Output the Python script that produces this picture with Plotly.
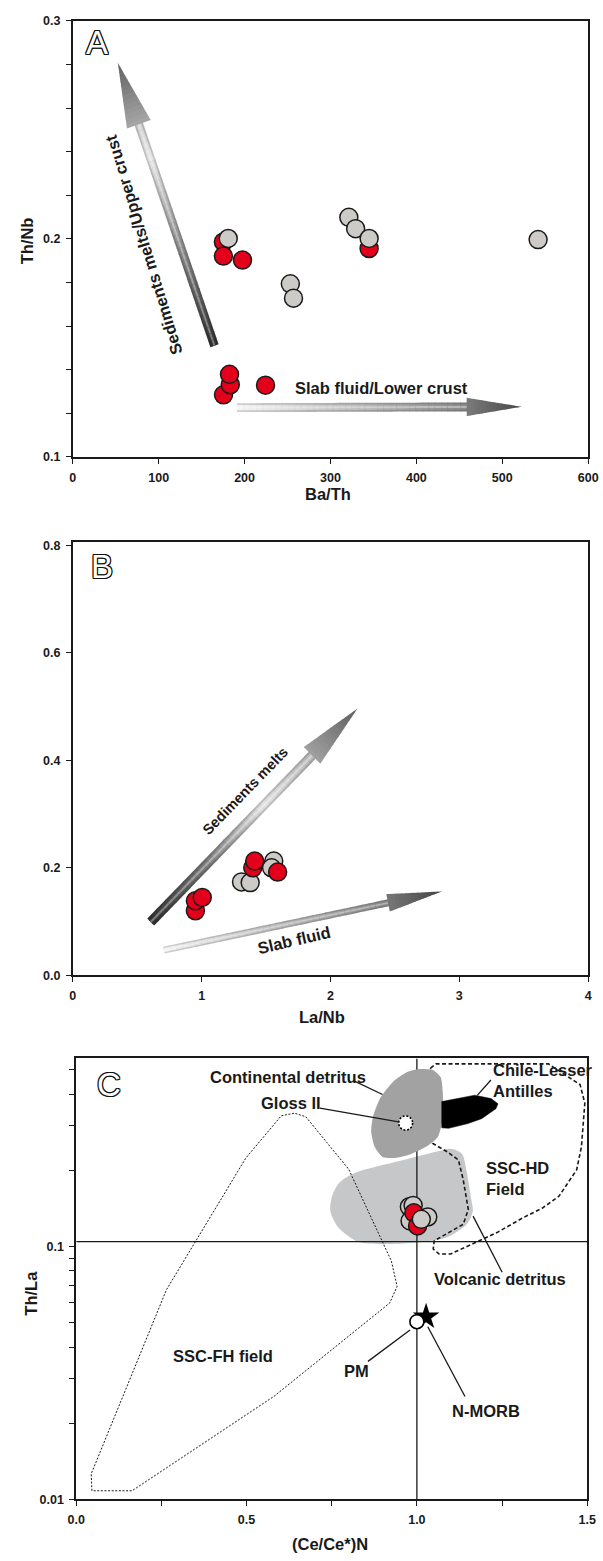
import math
import numpy as np
import plotly.graph_objects as go

W, H = 603, 1561
FONT = "Liberation Sans, Arial, Helvetica, sans-serif"

# ---------------- DATA ----------------
# Panel A: Ba/Th vs Th/Nb
a_red_ba_th = [175.4, 175.4, 197.6, 345.0, 175.5, 183.4, 182.5, 224.4]
a_red_th_nb = [0.1986, 0.1921, 0.1903, 0.1956, 0.1285, 0.1331, 0.1379, 0.1329]
a_gray_ba_th = [181.0, 321.4, 329.3, 345.0, 253.3, 257.0, 541.7]
a_gray_th_nb = [0.2002, 0.2099, 0.2047, 0.2002, 0.1794, 0.1728, 0.1997]

# Panel B: La/Nb vs Th/Nb
b_red_la_nb = [0.952, 0.952, 1.005, 1.397, 1.412, 1.590]
b_red_th_nb = [0.120, 0.1385, 0.1448, 0.200, 0.2124, 0.192]
b_gray_la_nb = [1.310, 1.377, 1.560, 1.543]
b_gray_th_nb = [0.1736, 0.1725, 0.2124, 0.200]

# Panel C: (Ce/Ce*)N vs Th/La
c_gray_back_ce = [0.978, 0.989, 0.980]
c_gray_back_thla = [0.1436, 0.1454, 0.1262]
c_red_ce = [0.991, 1.002]
c_red_thla = [0.1359, 0.1206]
c_gray_front_ce = [1.032, 1.013]
c_gray_front_thla = [0.1308, 0.1281]

# Reference compositions (panel C)
pm_ce, pm_thla = [1.0], [0.0504]
nmorb_ce, nmorb_thla = [1.027], [0.0527]
gloss_ce, gloss_thla = [0.967], [0.308]
ref_line_ce = 1.0
ref_line_thla = 0.1046

# Field outlines (panel C)
fh_ce = [0.046, 0.044, 0.265, 0.498, 0.602, 0.641, 0.674, 0.800, 0.925, 0.942, 0.920, 0.580, 0.164, 0.046]
fh_thla = [0.0108, 0.0126, 0.0675, 0.224, 0.329, 0.337, 0.326, 0.202, 0.0877, 0.0695, 0.0597, 0.0255, 0.0108, 0.0108]

hd_ce = [1.040, 1.056, 1.386, 1.479, 1.493, 1.483, 1.469, 1.417, 1.369, 1.312, 1.235, 1.099, 1.065,
         1.048, 1.051, 1.084, 1.136, 1.151, 1.136, 1.122, 1.089, 1.046, 1.040]
hd_thla = [0.508, 0.528, 0.528, 0.437, 0.369, 0.248, 0.201, 0.158, 0.142, 0.130, 0.1135, 0.0934, 0.0934,
           0.0977, 0.1053, 0.1119, 0.1224, 0.140, 0.1837, 0.220, 0.237, 0.256, 0.508]

volc_ce = [0.751, 0.771, 0.814, 0.942, 1.056, 1.099, 1.132, 1.146, 1.158, 1.164, 1.147, 1.085, 0.990, 0.894, 0.828, 0.771, 0.746]
volc_thla = [0.158, 0.178, 0.1945, 0.2168, 0.2372, 0.2438, 0.2331, 0.198, 0.158, 0.1379, 0.1227, 0.1082, 0.1034, 0.1022, 0.1043, 0.1184, 0.138]

cont_ce = [1.007, 1.047, 1.070, 1.076, 1.075, 1.062, 1.027, 0.979, 0.936, 0.899, 0.876, 0.866, 0.871, 0.894, 0.931, 0.970]
cont_thla = [0.504, 0.4995, 0.467, 0.408, 0.317, 0.272, 0.248, 0.231, 0.224, 0.226, 0.248, 0.284, 0.326, 0.390, 0.450, 0.489]

chile_ce = [1.073, 1.113, 1.170, 1.218, 1.238, 1.232, 1.190, 1.150, 1.093, 1.073]
chile_thla = [0.3745, 0.3847, 0.397, 0.3847, 0.367, 0.351, 0.3205, 0.3064, 0.2934, 0.2947]

# ---------------- GEOMETRY (pixels) ----------------
PA = dict(x0=65.7, x1=597.0, yb=454.0, yt=14.0, xr=(0, 600), yr=(0.1, 0.3), log=False)
PB = dict(x0=65.7, x1=597.0, yb=977.0, yt=540.0, xr=(0, 4), yr=(0, 0.806), log=False)
C_DEC = 255.0
PC = dict(x0=69.3, x1=596.0, yb=1505.7, yt=1061.0, xr=(0, 1.5),
          yr=(-2.0, -2.0 + (1505.7 - 1061.0) / C_DEC), log=True)


def d2p(P, x, y):
    px = P['x0'] + (x - P['xr'][0]) / (P['xr'][1] - P['xr'][0]) * (P['x1'] - P['x0'])
    yy = math.log10(y) if P['log'] else y
    py = P['yb'] - (yy - P['yr'][0]) / (P['yr'][1] - P['yr'][0]) * (P['yb'] - P['yt'])
    return px, py


def p2d(P, px, py):
    x = P['xr'][0] + (px - P['x0']) / (P['x1'] - P['x0']) * (P['xr'][1] - P['xr'][0])
    yy = P['yr'][0] + (P['yb'] - py) / (P['yb'] - P['yt']) * (P['yr'][1] - P['yr'][0])
    y = 10 ** yy if P['log'] else yy
    return x, y


def dom(P):
    return [P['x0'] / W, P['x1'] / W], [1 - P['yb'] / H, 1 - P['yt'] / H]


# ---------------- gradient arrows ----------------
def hex2rgb(h):
    h = h.lstrip('#')
    return [int(h[i:i + 2], 16) for i in (0, 2, 4)]


def interp(stops, t):
    for (t0, c0), (t1, c1) in zip(stops[:-1], stops[1:]):
        if t0 <= t <= t1:
            f = (t - t0) / (t1 - t0) if t1 > t0 else 0
            a, b = hex2rgb(c0), hex2rgb(c1)
            return [a[k] + (b[k] - a[k]) * f for k in range(3)]
    return hex2rgb(stops[-1][1])


def rgb(c):
    return 'rgb(%d,%d,%d)' % tuple(max(0, min(255, int(round(v)))) for v in c)


def lighten(c, f):
    return [v + (255 - v) * f for v in c]


def darken(c, f):
    return [v * (1 - f) for v in c]


def arrow_shapes(P, xref, yref, tail, tip, shaft_w, head_w, head_len, shaft_stops, head_stops, n=36, nh=14):
    tx, ty = d2p(P, *tail)
    hx, hy = d2p(P, *tip)
    L = math.hypot(hx - tx, hy - ty)
    ux, uy = (hx - tx) / L, (hy - ty) / L
    nx, ny = -uy, ux
    sl = L - head_len
    out = []

    def quad(pts, col):
        dpts = [p2d(P, *p) for p in pts]
        path = 'M ' + ' L '.join('%.5f,%.5f' % p for p in dpts) + ' Z'
        out.append(dict(type='path', xref=xref, yref=yref, path=path, fillcolor=rgb(col),
                        line=dict(width=0), layer='below'))

    def pt(s, w):
        return (tx + ux * s + nx * w, ty + uy * s + ny * w)

    for i in range(n):
        s0 = sl * i / n
        s1 = min(sl * (i + 1) / n + 0.7, sl + 0.5)
        base = interp(shaft_stops, (i + 0.5) / n)
        for frac, col in ((1.0, darken(base, 0.15)), (0.6, base), (0.22, lighten(base, 0.35))):
            hw = shaft_w * frac / 2
            quad([pt(s0, hw), pt(s1, hw), pt(s1, -hw), pt(s0, -hw)], col)
    for j in range(nh):
        a0, a1 = j / nh, (j + 1) / nh
        w0, w1 = head_w / 2 * (1 - a0), head_w / 2 * (1 - a1)
        s0 = sl + head_len * a0 - (0.6 if j > 0 else 0)
        s1 = sl + head_len * a1
        col = interp(head_stops, (j + 0.5) / nh)
        quad([pt(s0, w0), pt(s1, w1), pt(s1, -w1), pt(s0, -w0)], col)
    return out


shapes = []
shapes += arrow_shapes(PA, 'x', 'y', (165.0, 0.151), (52.4, 0.2809), 9, 26, 66,
                       [(0, '#303030'), (0.45, '#8c8c8c'), (0.85, '#e6e6e6'), (1, '#d0d0d0')],
                       [(0, '#a8a8a8'), (1, '#606060')])
shapes += arrow_shapes(PA, 'x', 'y', (191.2, 0.1226), (523.0, 0.1230), 9, 18.5, 57,
                       [(0, '#f4f4f4'), (1, '#8a8a8a')],
                       [(0, '#7a7a7a'), (1, '#4a4a4a')])
shapes += arrow_shapes(PB, 'x2', 'y2', (0.605, 0.099), (2.212, 0.497), 10, 24, 67,
                       [(0, '#303030'), (0.35, '#7a7a7a'), (0.7, '#e2e2e2'), (1, '#b8b8b8')],
                       [(0, '#a0a0a0'), (1, '#5e5e5e')])
shapes += arrow_shapes(PB, 'x2', 'y2', (0.707, 0.0467), (2.867, 0.156), 7, 18, 57,
                       [(0, '#f2f2f2'), (1, '#8a8a8a')],
                       [(0, '#777777'), (1, '#444444')])

# ---------------- figure ----------------
RED = '#e2001a'
GRAY = '#cdcbc8'
EDGE = '#1a1a1a'
MS = 18
fig = go.Figure()


def pts(x, y, color, xa, ya, size=MS):
    return go.Scatter(x=x, y=y, xaxis=xa, yaxis=ya, mode='markers',
                      marker=dict(size=size, color=color, line=dict(color=EDGE, width=1.5)),
                      showlegend=False, hoverinfo='skip', cliponaxis=False)


def line(x, y, xa, ya, width=1.2, dash='solid', color=EDGE, fill=None, fillcolor=None, shape='linear'):
    return go.Scatter(x=x, y=y, xaxis=xa, yaxis=ya, mode='lines',
                      line=dict(color=color, width=width, dash=dash, shape=shape),
                      fill=fill, fillcolor=fillcolor, showlegend=False, hoverinfo='skip')


# Panel A
fig.add_trace(pts(a_red_ba_th, a_red_th_nb, RED, 'x', 'y'))
fig.add_trace(pts(a_gray_ba_th, a_gray_th_nb, GRAY, 'x', 'y'))
# Panel B
fig.add_trace(pts(b_gray_la_nb, b_gray_th_nb, GRAY, 'x2', 'y2'))
fig.add_trace(pts(b_red_la_nb, b_red_th_nb, RED, 'x2', 'y2'))

# Panel C fields
fig.add_trace(go.Scatter(x=volc_ce + volc_ce[:1], y=volc_thla + volc_thla[:1], xaxis='x3', yaxis='y3',
                         mode='lines', fill='toself', fillcolor='#c6c7c9',
                         line=dict(width=0, shape='spline', smoothing=0.8, color='#c6c7c9'),
                         showlegend=False, hoverinfo='skip'))
fig.add_trace(line([ref_line_ce, ref_line_ce], [0.01, 10 ** PC['yr'][1]], 'x3', 'y3', width=1.3))
fig.add_trace(line([0, 1.5], [ref_line_thla, ref_line_thla], 'x3', 'y3', width=1.3))
fig.add_trace(line(fh_ce, fh_thla, 'x3', 'y3', width=1.0, dash='2px,1.6px'))
fig.add_trace(line(hd_ce, hd_thla, 'x3', 'y3', width=1.6, dash='4px,2.5px'))
fig.add_trace(go.Scatter(x=cont_ce + cont_ce[:1], y=cont_thla + cont_thla[:1], xaxis='x3', yaxis='y3',
                         mode='lines', fill='toself', fillcolor='#a2a2a2',
                         line=dict(width=0, shape='spline', smoothing=0.6, color='#a2a2a2'),
                         showlegend=False, hoverinfo='skip'))
fig.add_trace(go.Scatter(x=chile_ce + chile_ce[:1], y=chile_thla + chile_thla[:1], xaxis='x3', yaxis='y3',
                         mode='lines', fill='toself', fillcolor='#000000',
                         line=dict(width=0.5, color='#000000'),
                         showlegend=False, hoverinfo='skip'))

# leader lines (panel C)
leaders = [
    ([0.8137, 0.8992], [0.4534, 0.3995]),   # Continental detritus
    ([0.7154, gloss_ce[0]], [0.353, gloss_thla[0]]),  # Gloss II
    ([1.1774, 1.2173], [0.396, 0.456]),     # Chile-Lesser Antilles
    ([1.1649, 1.2503], [0.1319, 0.0791]),   # Volcanic detritus
    ([0.980, 0.8564], [0.0467, 0.0351]),    # PM
    ([1.032, 1.1412], [0.0481, 0.0255]),    # N-MORB
]
for lx, ly in leaders:
    fig.add_trace(line(lx, ly, 'x3', 'y3', width=1.3))

# Gloss II: white disc with dotted outline
gcx, gcy = d2p(PC, gloss_ce[0], gloss_thla[0])
ang = np.linspace(0, 2 * np.pi, 61)
gpts = [p2d(PC, gcx + 7.3 * math.cos(a), gcy + 7.3 * math.sin(a)) for a in ang]
fig.add_trace(go.Scatter(x=[p[0] for p in gpts], y=[p[1] for p in gpts], xaxis='x3', yaxis='y3',
                         mode='lines', fill='toself', fillcolor='white',
                         line=dict(color='black', width=1.6, dash='2px,1.8px'),
                         showlegend=False, hoverinfo='skip'))

# data points (panel C)
fig.add_trace(pts(c_gray_back_ce, c_gray_back_thla, GRAY, 'x3', 'y3'))
fig.add_trace(pts(c_red_ce, c_red_thla, RED, 'x3', 'y3'))
fig.add_trace(pts(c_gray_front_ce, c_gray_front_thla, GRAY, 'x3', 'y3'))

# N-MORB star and PM
fig.add_trace(go.Scatter(x=nmorb_ce, y=nmorb_thla, xaxis='x3', yaxis='y3', mode='markers',
                         marker=dict(symbol='star', size=20, color='black', line=dict(width=0)),
                         showlegend=False, hoverinfo='skip'))
fig.add_trace(go.Scatter(x=pm_ce, y=pm_thla, xaxis='x3', yaxis='y3', mode='markers',
                         marker=dict(symbol='circle', size=14, color='white', line=dict(color='black', width=1.6)),
                         showlegend=False, hoverinfo='skip'))

# ---------------- axes ----------------
TICKFONT = dict(family="Liberation Sans Narrow, Liberation Sans, Arial", size=12.5, color=EDGE, weight='bold')


def axis(**kw):
    d = dict(showline=True, linecolor=EDGE, linewidth=1.6, mirror=True, ticks='outside', ticklen=5,
             tickwidth=1.2, tickcolor=EDGE, showgrid=False, zeroline=False, tickfont=TICKFONT,
             fixedrange=True, ticklabelstandoff=3)
    d.update(kw)
    return d


xa, ya = dom(PA)
xb, yb = dom(PB)
xc, yc = dom(PC)

fig.update_layout(
    width=W, height=H, margin=dict(l=0, r=0, t=0, b=0),
    paper_bgcolor='white', plot_bgcolor='white', showlegend=False,
    xaxis=axis(domain=xa, anchor='y', range=list(PA['xr']), tickmode='array',
               tickvals=[0, 100, 200, 300, 400, 500, 600]),
    yaxis=axis(domain=ya, anchor='x', range=list(PA['yr']), tickmode='array',
               tickvals=[0.1, 0.2, 0.3], ticktext=['0.1', '0.2', '0.3'],
               minor=dict(tickmode='array', tickvals=[0.12, 0.14, 0.16, 0.18, 0.22, 0.24, 0.26, 0.28],
                          ticks='outside', ticklen=5, tickwidth=1.2, tickcolor=EDGE)),
    xaxis2=axis(domain=xb, anchor='y2', range=list(PB['xr']), tickmode='array', tickvals=[0, 1, 2, 3, 4]),
    yaxis2=axis(domain=yb, anchor='x2', range=list(PB['yr']), tickmode='array',
                tickvals=[0, 0.2, 0.4, 0.6, 0.8], ticktext=['0.0', '0.2', '0.4', '0.6', '0.8']),
    xaxis3=axis(domain=xc, anchor='y3', range=list(PC['xr']), tickmode='array',
                tickvals=[0, 0.5, 1.0, 1.5], ticktext=['0.0', '0.5', '1.0', '1.5'],
                minor=dict(tickmode='array', tickvals=[0.25, 0.75, 1.25], ticks='outside',
                           ticklen=5, tickwidth=1.2, tickcolor=EDGE)),
    yaxis3=axis(domain=yc, anchor='x3', type='log', range=list(PC['yr']), tickmode='array',
                tickvals=[0.01, 0.1], ticktext=['0.01', '0.1'],
                minor=dict(tickmode='array',
                           tickvals=[0.02, 0.03, 0.04, 0.05, 0.06, 0.07, 0.08, 0.09, 0.2, 0.3, 0.4, 0.5],
                           ticks='outside', ticklen=5, tickwidth=1.2, tickcolor=EDGE)),
    shapes=shapes,
)


# ---------------- text ----------------
def pann(text, px, py, size=16.5, angle=0, xanchor='center', align='center', weight='bold'):
    return dict(text=text, x=px / W, y=1 - py / H, xref='paper', yref='paper', showarrow=False,
                xanchor=xanchor, yanchor='middle', textangle=angle, align=align,
                font=dict(family=FONT, size=size, color=EDGE, weight=weight))


def letter(text, px, py):
    a = pann(text, px, py, size=33, weight='normal')
    a['font']['color'] = 'white'
    a['font']['shadow'] = ('1px 0 0 #111, -1px 0 0 #111, 0 1px 0 #111, 0 -1px 0 #111, '
                           '1px 1px 0 #111, -1px -1px 0 #111, 1px -1px 0 #111, -1px 1px 0 #111')
    return a


anns = [
    # axis titles
    pann('Th/Nb', 18, 236, 16.5, angle=-90),
    pann('Ba/Th', 329, 491, 16.5),
    pann('La/Nb', 323, 1019, 16.5),
    pann('Th/La', 23, 1298, 16.5, angle=-90),
    pann('(Ce/Ce*)N', 331, 1551, 16.5),
    # panel letters
    letter('A', 90.5, 36),
    letter('B', 96, 565),
    letter('C', 103.5, 1087.5),
    # panel A
    pann('Slab fluid/Lower crust', 383.6, 384.3, 16.5),
    pann('Sediments melts/Upper crust', 138.5, 240, 16.5, angle=-107),
    # panel B
    pann('Sediments melts', 243.5, 791.5, 14.5, angle=-45.8),
    pann('Slab fluid', 293.8, 941.7, 16.5, angle=-13),
    # panel C
    pann('Continental detritus', 287.7, 1080, 16.5),
    pann('Gloss II', 290.4, 1106, 16.5),
    pann('Chile-Lesser<br>Antilles', 497, 1083, 16.5, xanchor='left', align='left'),
    pann('SSC-HD<br>Field', 490, 1181.7, 16.5, xanchor='left', align='left'),
    pann('Volcanic detritus', 505.8, 1283.7, 16.5),
    pann('SSC-FH field', 221, 1361.7, 16.5),
    pann('PM', 358.7, 1376, 16.5),
    pann('N-MORB', 492, 1417, 16.5),
]
fig.update_layout(annotations=anns)

fig.write_html('out.html', config={'displayModeBar': False},
               post_script="document.body.style.margin='0';document.body.style.padding='0';"
                           "document.documentElement.style.margin='0';")
